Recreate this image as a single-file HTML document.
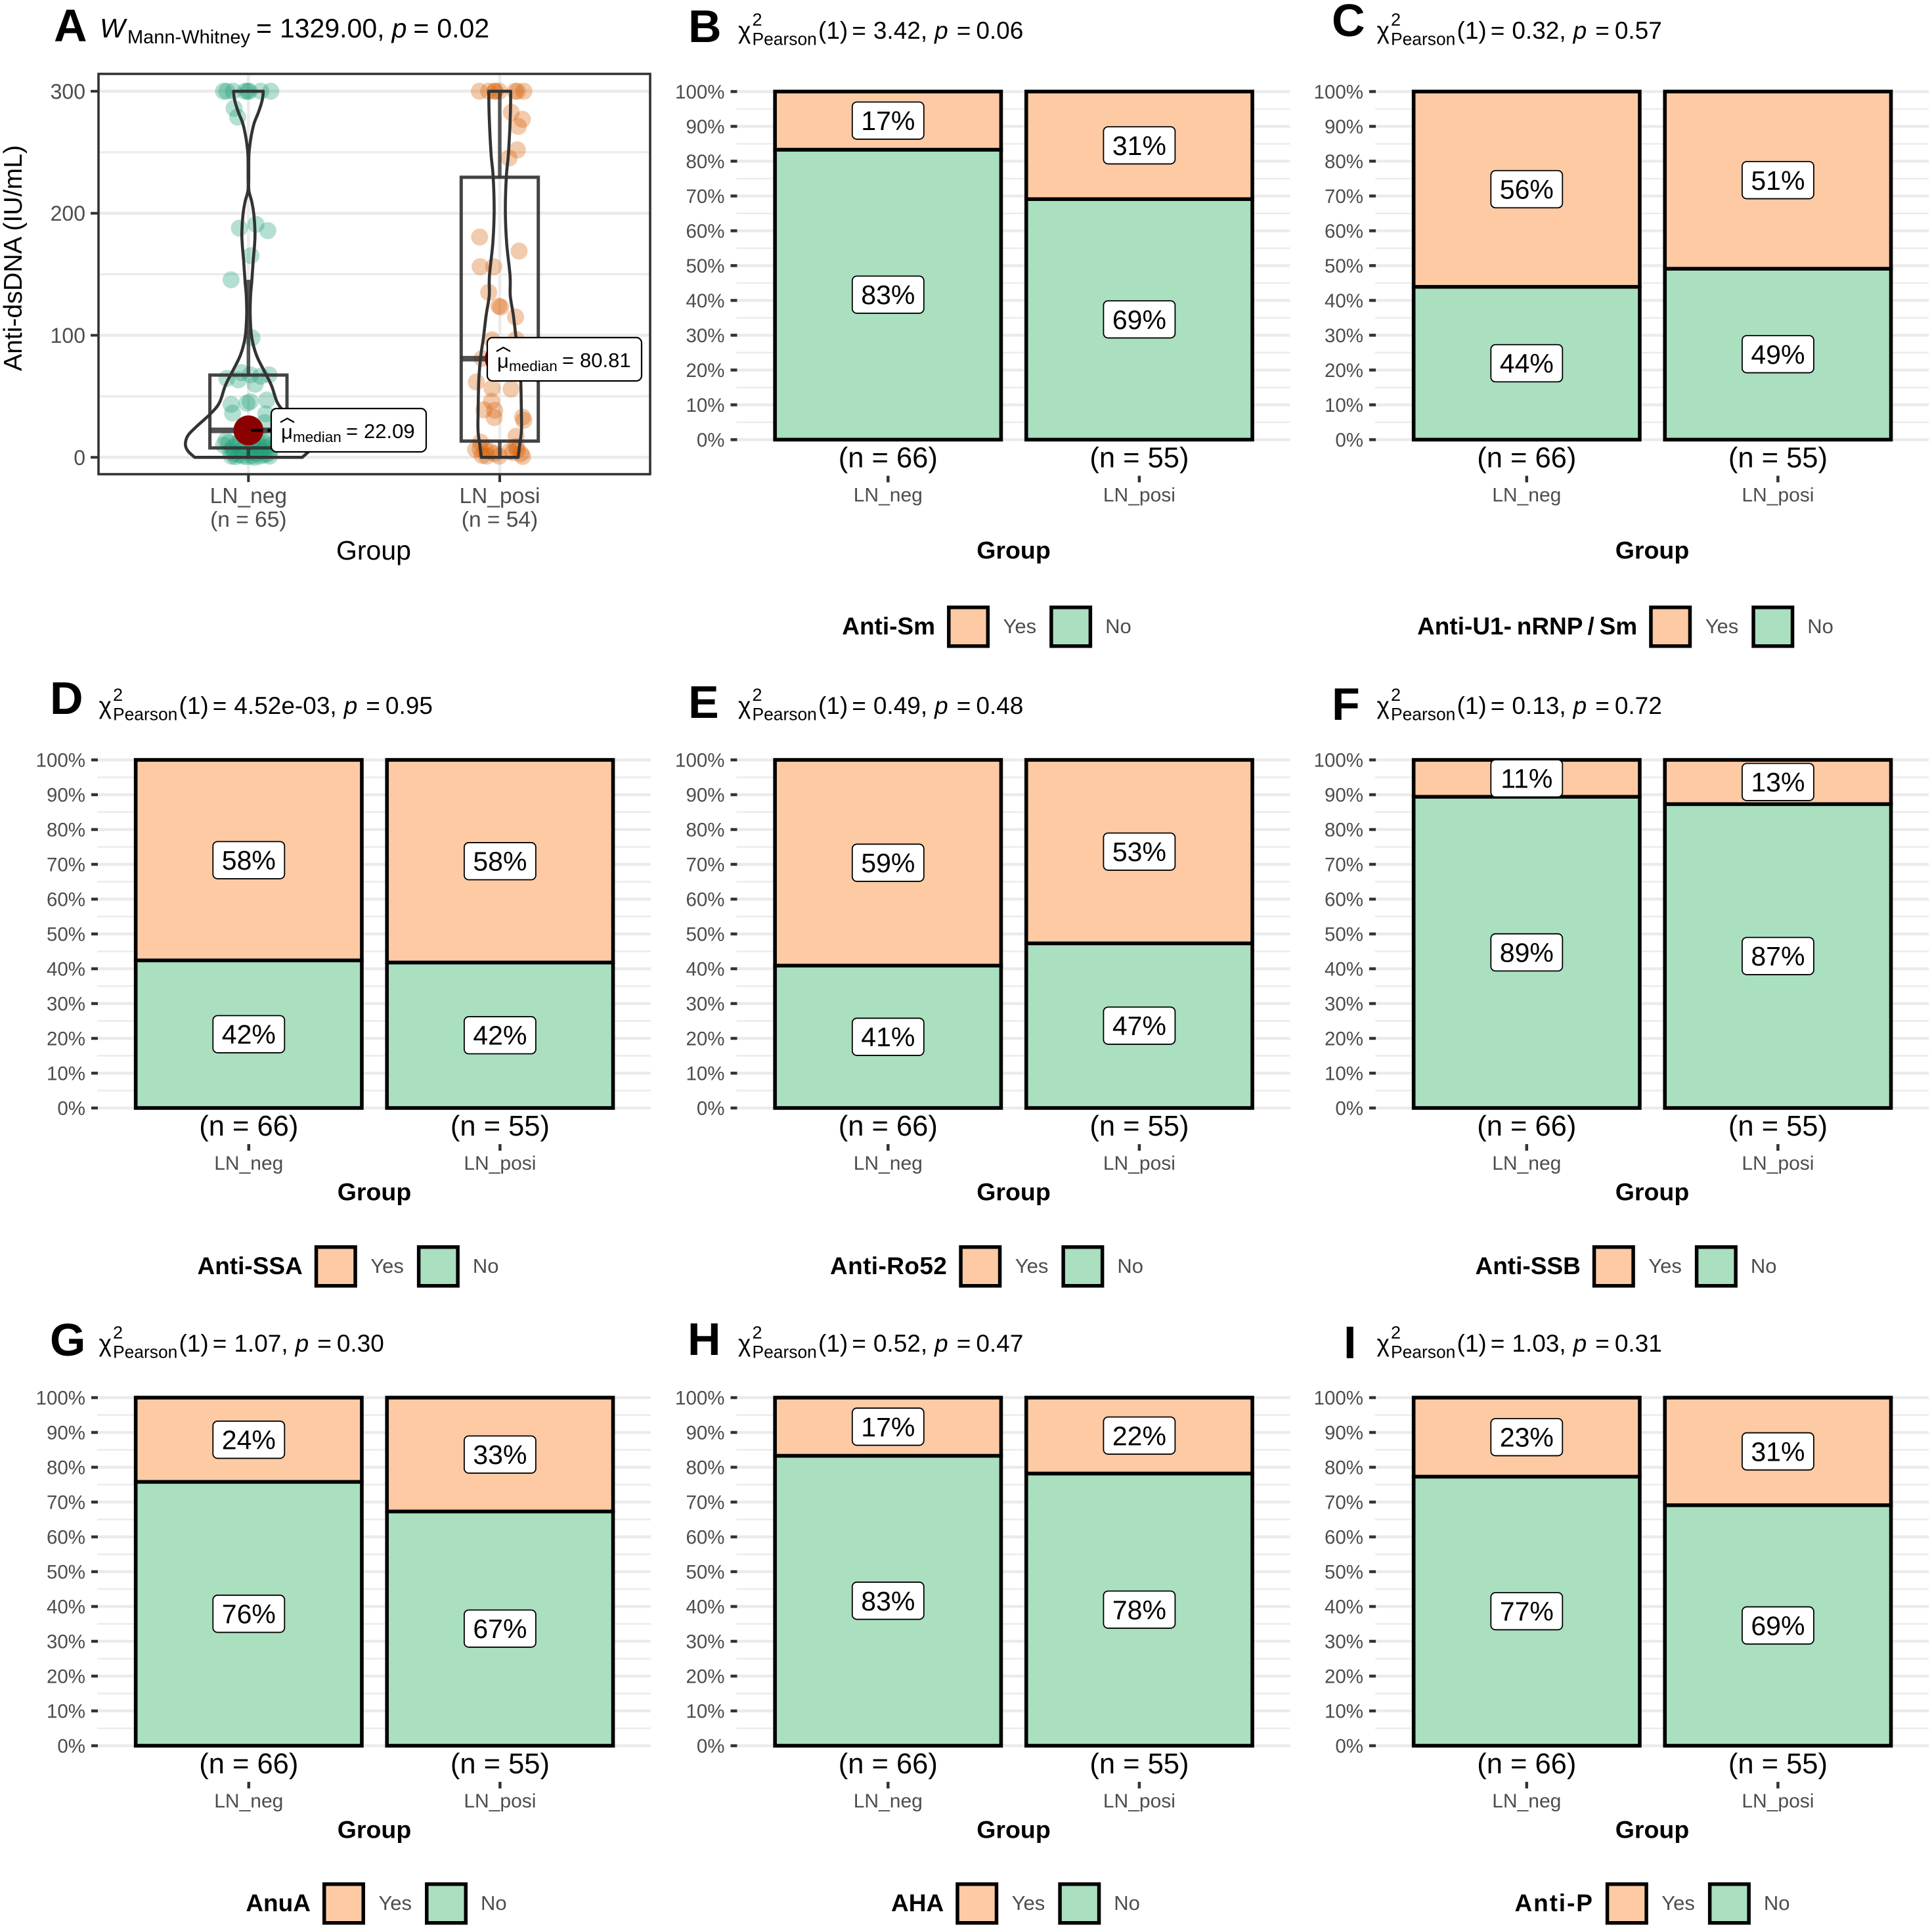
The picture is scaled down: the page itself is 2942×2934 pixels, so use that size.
<!DOCTYPE html>
<html lang="en">
<head>
<meta charset="utf-8">
<title>Anti-dsDNA and autoantibodies by LN group</title>
<style>
html,body{margin:0;padding:0;background:#fff}
svg{display:block}
text{font-family:"Liberation Sans",sans-serif}
</style>
</head>
<body>
<svg id="chart" xmlns="http://www.w3.org/2000/svg" width="2942" height="2934" viewBox="0 0 2942 2934"></svg>
<script>
// ---- Panel A data ----
const groupNames = ['LN_neg', 'LN_posi'];
const groupNsA = [65, 54];
const yTicksA = [0, 100, 200, 300];
const yMinorA = [50, 150, 250];
const mannWhitneyStat = '1329.00';
const mannWhitneyP = '0.02';
const medians = [22.09, 80.81];
const q1s = [7.7, 13.3];
const q3s = [67.4, 229.5];
const whiskerLow = [0, 0];
const whiskerHigh = [145.5, 300];

const negValues = [300,300,300,300,300,300,300,300,286,278.8,187.8,190.9,185.8,165.2,145.5,97.9,64.7,69.4,63.5,67.6,59.9,66.5,67.6,43.4,36.2,44.3,45.6,47,35.7,28.5,
  14,10,12,8,5,3,11,2,6,1,9,0.5,4,1,7,0,3,10,1,5,13,2,8,15,3,1,6,10,0.5,1,13,12,14];
const negJitter = [-0.099,-0.086,-0.06,-0.013,-0.003,0.003,0.049,0.089,-0.057,-0.043,-0.036,0.03,0.077,0.01,-0.069,0.014,-0.086,-0.028,-0.04,0.008,0.027,0.049,0.082,-0.069,-0.063,-0.006,0.007,0.073,0.069,0.065,
  -0.089,-0.099,-0.078,-0.063,-0.073,-0.057,-0.047,-0.037,-0.026,-0.021,-0.013,-0.005,0.005,0.013,0.021,0.026,0.031,0.039,0.047,0.052,0.057,0.063,0.068,0.073,0.078,0.084,0.089,0.091,-0.052,-0.068,-0.031,0.016,0.037];

const posiValues = [300,300,300,300,300,300,300,300,282.7,277,271.2,251.9,245.2,180.5,169,156.2,156.2,135.2,123.9,123.2,115,96.3,96.7,81,69.8,61.7,56.7,56,45.9,38.9,38.5,32.6,33,30.3,17.2,12.4,
  6.4,7,1.5,6,5,3,1,5,9,6,0.7,3,4,1];
const posiJitter = [-0.081,-0.044,-0.019,-0.019,-0.002,0.061,0.07,0.096,0.046,0.09,0.074,0.07,0.037,-0.08,0.077,-0.078,-0.024,-0.044,-0.004,0.004,0.063,-0.031,0.065,-0.07,0.013,-0.093,-0.031,0.045,-0.033,-0.063,-0.02,-0.022,0.091,0.096,0.065,-0.076,
  -0.096,-0.078,-0.07,-0.057,-0.039,-0.021,-0.002,0.039,0.065,0.07,0.091,0.084,0.052,-0.052];

const negViolinY = [300,292.8,283.4,274.3,265.4,256.4,247,229,218.6,209.7,199,184.6,173.8,161.2,143.4,132.6,116.4,98.5,84,71.8,59,44.7,35.8,24.9,17.8,10.6,5.2,0];
const negDensity = [0.236,0.219,0.164,0.094,0.052,0.024,0.007,0.005,0.007,0.052,0.086,0.104,0.097,0.076,0.052,0.034,0.028,0.052,0.125,0.24,0.365,0.46,0.6,0.83,0.96,1,0.96,0.854];
const posiViolinY = [300,283.4,265.4,247,229.5,202.6,175.7,148.8,132.5,116.4,98.6,82.5,62.5,35.7,21.3,8.8,0];
const posiDensity = [0.174,0.17,0.156,0.135,0.104,0.089,0.109,0.164,0.167,0.216,0.257,0.302,0.333,0.344,0.344,0.313,0.292];

// ---- Panels B-I data ----
const panelLetters = ['B','C','D','E','F','G','H','I'];
const antibodyNames = ['Anti-Sm','Anti-U1- nRNP / Sm','Anti-SSA','Anti-Ro52','Anti-SSB','AnuA','AHA','Anti-P'];
const chiStats = ['3.42','0.32','4.52e-03','0.49','0.13','1.07','0.52','1.03'];
const chiPValues = ['0.06','0.57','0.95','0.48','0.72','0.30','0.47','0.31'];
const noPctNeg = [83.3,43.9,42.4,40.9,89.4,75.8,83.3,77.3];
const noPctPosi = [69.1,49.1,41.8,47.3,87.3,67.3,78.2,69.1];
const barGroupNs = [66, 55];
const pctTicks = [0,10,20,30,40,50,60,70,80,90,100];

// ---- Layout ----
const svg = document.getElementById('chart');
const NS = 'http://www.w3.org/2000/svg';
const ORANGE = '#fecaa3', GREEN = '#aadfc0', GRID = '#ebebeb', AXIS = '#333333', TICKTXT = '#4d4d4d';

function add(tag, name, attrs, parent, txt) {
  const el = document.createElementNS(NS, tag);
  
  
  for (const k in attrs) el.setAttribute(k, attrs[k]);
  if (txt !== undefined) el.textContent = txt;
  (parent || svg).appendChild(el);
  return el;
}
function span(parent, txt, attrs) {
  const el = document.createElementNS(NS, 'tspan');
  for (const k in (attrs || {})) el.setAttribute(k, attrs[k]);
  el.textContent = txt;
  parent.appendChild(el);
  return el;
}

// Panel letters
const letterA = add('text', 'panel-letter-a', {x: 82, y: 63, 'font-size': 70, 'font-weight': 700, fill: '#000'}, svg, 'A');

// ---- Panel A ----
(function panelA() {
  const g = add('g', 'panel-a-violin-box-plot', {});
  const left = 150, right = 990, top = 112.5, bottom = 722;
  const y = v => 696.3 - v * 1.858;
  const x = i => 378.3 + i * 382.7;
  const halfW = d => d * 96;

  yMinorA.forEach(v => {
    add('line', 'minor-gridline-' + v, {x1: left, x2: right, y1: y(v), y2: y(v), stroke: GRID, 'stroke-width': 3.2}, g);
  });
  yTicksA.forEach(v => {
    add('line', 'major-gridline-' + v, {x1: left, x2: right, y1: y(v), y2: y(v), stroke: GRID, 'stroke-width': 4.6}, g);
  });
  groupNames.forEach((n, i) => {
    add('line', 'vertical-gridline-' + n, {x1: x(i), x2: x(i), y1: top, y2: bottom, stroke: GRID, 'stroke-width': 4.6}, g);
  });

  // points
  negValues.forEach((v, i) => {
    add('circle', 'point-lnneg', {cx: x(negJitter[i]), cy: y(v), r: 13, fill: '#1b9e77', 'fill-opacity': 0.33}, g);
  });
  posiValues.forEach((v, i) => {
    add('circle', 'point-lnposi', {cx: x(1 + posiJitter[i]), cy: y(v), r: 13, fill: '#d95f02', 'fill-opacity': 0.33}, g);
  });

  // box plots
  groupNames.forEach((n, i) => {
    const cx = x(i), hw = 58.7;
    add('line', 'whisker-upper-' + n, {x1: cx, x2: cx, y1: y(q3s[i]), y2: y(whiskerHigh[i]), stroke: '#333', 'stroke-opacity': 0.82, 'stroke-width': 5.5}, g);
    add('line', 'whisker-lower-' + n, {x1: cx, x2: cx, y1: y(q1s[i]), y2: y(whiskerLow[i]), stroke: '#333', 'stroke-opacity': 0.82, 'stroke-width': 5.5}, g);
    add('rect', 'box-' + n, {x: cx - hw, y: y(q3s[i]), width: hw * 2, height: y(q1s[i]) - y(q3s[i]), fill: 'none', stroke: '#333', 'stroke-opacity': 0.92, 'stroke-width': 5}, g);
    add('line', 'median-line-' + n, {x1: cx - hw, x2: cx + hw, y1: y(medians[i]), y2: y(medians[i]), stroke: '#333', 'stroke-opacity': 0.85, 'stroke-width': 8.5}, g);
  });

  // violins
  function smooth(pts) {
    let d = '';
    for (let i = 0; i < pts.length - 1; i++) {
      const p0 = pts[Math.max(0, i - 1)], p1 = pts[i], p2 = pts[i + 1], p3 = pts[Math.min(pts.length - 1, i + 2)];
      d += ' C' + (p1[0] + (p2[0] - p0[0]) / 6).toFixed(1) + ' ' + (p1[1] + (p2[1] - p0[1]) / 6).toFixed(1) + ' ' +
           (p2[0] - (p3[0] - p1[0]) / 6).toFixed(1) + ' ' + (p2[1] - (p3[1] - p1[1]) / 6).toFixed(1) + ' ' +
           p2[0].toFixed(1) + ' ' + p2[1].toFixed(1);
    }
    return d;
  }
  function violin(i, ys, dens, name) {
    const rightSide = ys.map((v, k) => [x(i) + halfW(dens[k]), y(v)]);
    const leftSide = ys.map((v, k) => [x(i) - halfW(dens[k]), y(v)]).reverse();
    const d = 'M' + rightSide[0][0].toFixed(1) + ' ' + rightSide[0][1].toFixed(1) + smooth(rightSide) +
      ' L' + leftSide[0][0].toFixed(1) + ' ' + leftSide[0][1].toFixed(1) + smooth(leftSide) + ' Z';
    add('path', name, {d: d, fill: 'none', stroke: '#333', 'stroke-width': 4.6, 'stroke-linejoin': 'round'}, g);
  }
  violin(0, negViolinY, negDensity, 'violin-lnneg');
  violin(1, posiViolinY, posiDensity, 'violin-lnposi');

  // median dots and leaders
  const labelRectX = [413, 742];
  const labelRectY = [622, 514];
  const labelRectW = [236, 235];
  medians.forEach((m, i) => {
    add('circle', 'median-dot-' + groupNames[i], {cx: x(i), cy: y(m), r: 22.8, fill: '#8b0000'}, g);
    add('line', 'median-leader-' + groupNames[i], {x1: x(i) + 4, x2: labelRectX[i], y1: y(m), y2: y(m), stroke: '#000', 'stroke-width': 4.6, 'stroke-dasharray': '18 7'}, g);
  });
  medians.forEach((m, i) => {
    const rx = labelRectX[i], ry = labelRectY[i];
    const lab = add('g', 'median-label-' + groupNames[i], {}, g);
    add('rect', 'median-label-box', {x: rx, y: ry, width: labelRectW[i], height: 66, rx: 8, fill: '#fff', stroke: '#000', 'stroke-width': 2.2}, lab);
    add('path', 'median-hat', {d: 'M' + (rx + 14) + ' ' + (ry + 21) + ' l10.5 -6 l10.5 6', fill: 'none', stroke: '#000', 'stroke-width': 2.2}, lab);
    add('text', 'median-mu', {x: rx + 15, y: ry + 46, 'font-size': 31, fill: '#000'}, lab, 'μ');
    add('text', 'median-subscript', {x: rx + 33, y: ry + 51, 'font-size': 22.5, fill: '#000'}, lab, 'median');
    add('text', 'median-equals', {x: rx + 114, y: ry + 45, 'font-size': 31, fill: '#000'}, lab, '=');
    add('text', 'median-value', {x: rx + 141, y: ry + 45, 'font-size': 31, fill: '#000'}, lab, m.toFixed(2));
  });

  add('rect', 'panel-a-border', {x: left, y: top, width: right - left, height: bottom - top, fill: 'none', stroke: AXIS, 'stroke-width': 3.6}, g);

  // axes
  yTicksA.forEach(v => {
    add('line', 'y-tick-' + v, {x1: 138, x2: left, y1: y(v), y2: y(v), stroke: AXIS, 'stroke-width': 4}, g);
    add('text', 'y-tick-label-' + v, {x: 130, y: y(v) + 11.5, 'text-anchor': 'end', 'font-size': 32, fill: TICKTXT}, g, String(v));
  });
  groupNames.forEach((n, i) => {
    add('line', 'x-tick-' + n, {x1: x(i), x2: x(i), y1: bottom, y2: bottom + 12, stroke: AXIS, 'stroke-width': 4}, g);
    add('text', 'x-tick-label-' + n, {x: x(i), y: 766, 'text-anchor': 'middle', 'font-size': 33.5, fill: TICKTXT}, g, n);
    add('text', 'x-tick-n-' + n, {x: x(i), y: 802, 'text-anchor': 'middle', 'font-size': 33.5, fill: TICKTXT}, g, '(n = ' + groupNsA[i] + ')');
  });
  add('text', 'x-axis-title', {x: 569, y: 852, 'text-anchor': 'middle', 'font-size': 41, fill: '#000'}, g, 'Group');
  add('text', 'y-axis-title', {transform: 'translate(33,393) rotate(-90)', 'text-anchor': 'middle', 'font-size': 39.2, fill: '#000'}, g, 'Anti-dsDNA (IU/mL)');

  // subtitle
  const t1 = add('text', 'panel-a-stat-w', {x: 152, y: 57, 'font-size': 41, 'font-style': 'italic', fill: '#000'}, g, 'W');
  const t2 = add('text', 'panel-a-stat-subscript', {x: 194, y: 66, 'font-size': 29, fill: '#000'}, g, 'Mann-Whitney');
  const t3 = add('text', 'panel-a-stat', {x: 390, y: 57, 'font-size': 41, fill: '#000'}, g);
  span(t3, '=');
  span(t3, mannWhitneyStat + ',', {dx: 12});
  span(t3, 'p', {dx: 11, 'font-style': 'italic'});
  span(t3, '=', {dx: 10});
  span(t3, mannWhitneyP, {dx: 12});
})();

// ---- Panels B-I ----
const colOffset = [973.5, 1946, 0, 973.5, 1946, 0, 973.5, 1946];
const plotTop = [139.4, 139.4, 1157, 1157, 1157, 2128, 2128, 2128];
const groupBase = [181, 181, 140.5, 140.5, 140.5, 140.5, 140.5, 140.5];
const keyTop = [922, 922, 1896, 1896, 1896, 2866, 2866, 2866];
const titleBase = [59, 59, 1087, 1087, 1087, 2058, 2058, 2058];
const letterBase = [64, 55, 1087, 1093, 1096, 2064, 2063, 2068];
const letterX = [1048, 2028, 76, 1048, 2028, 76, 1047, 2046];
const legendShift = [0, 0, 1, 0, 1, 44, 44, 41];
const legendTitleSpacing = [0, 0, 0, 0.4, 0, 0, 0, 1.9];

panelLetters.forEach((L, p) => {
  const ox = colOffset[p], top = plotTop[p], bottom = top + 530;
  const g = add('g', 'panel-' + L.toLowerCase() + '-stacked-bars', {});
  const y = pct => bottom - pct / 100 * (bottom - top);
  const xCenter = i => ox + 378.8 + i * 382.6;
  const barW = 344.3;

  add('text', 'panel-letter-' + L.toLowerCase(), {x: letterX[p], y: letterBase[p], 'font-size': 70, 'font-weight': 700, fill: '#000'}, g, L);

  // stat title
  const tb = titleBase[p], tx = ox + 150.5;
  add('text', 'chi-symbol', {x: tx, y: tb, 'font-size': 37, fill: '#000'}, g, 'χ');
  add('text', 'chi-superscript', {x: tx + 21.5, y: tb - 20, 'font-size': 27, fill: '#000'}, g, '2');
  add('text', 'chi-subscript', {x: tx + 21.5, y: tb + 9.5, 'font-size': 26.4, fill: '#000'}, g, 'Pearson');
  const st = add('text', 'chi-statistic', {x: tx + 122, y: tb, 'font-size': 37, fill: '#000'}, g);
  span(st, '(1)');
  span(st, '=', {dx: 6});
  span(st, chiStats[p] + ',', {dx: 11});
  span(st, 'p', {dx: 11, 'font-style': 'italic'});
  span(st, '=', {dx: 13});
  span(st, chiPValues[p], {dx: 8});

  // grid
  pctTicks.forEach((t, k) => {
    if (k < pctTicks.length - 1) {
      const mid = (t + pctTicks[k + 1]) / 2;
      add('line', 'minor-gridline', {x1: ox + 148, x2: ox + 991, y1: y(mid), y2: y(mid), stroke: GRID, 'stroke-width': 2.4}, g);
    }
    add('line', 'major-gridline-' + t, {x1: ox + 148, x2: ox + 991, y1: y(t), y2: y(t), stroke: GRID, 'stroke-width': 4.4}, g);
    add('line', 'y-tick-' + t, {x1: ox + 139, x2: ox + 149, y1: y(t), y2: y(t), stroke: AXIS, 'stroke-width': 4.5}, g);
    add('text', 'y-tick-label-' + t, {x: ox + 130, y: y(t) + 10.5, 'text-anchor': 'end', 'font-size': 29.5, fill: TICKTXT}, g, t + '%');
  });

  // bars
  const noVals = [noPctNeg[p], noPctPosi[p]];
  noVals.forEach((no, i) => {
    const cx = xCenter(i);
    add('rect', 'bar-no-' + groupNames[i], {x: cx - barW / 2, y: y(no), width: barW, height: y(0) - y(no), fill: GREEN, stroke: '#000', 'stroke-width': 5.6}, g);
    add('rect', 'bar-yes-' + groupNames[i], {x: cx - barW / 2, y: y(100), width: barW, height: y(no) - y(100), fill: ORANGE, stroke: '#000', 'stroke-width': 5.6}, g);
    [[no / 2, no], [no + (100 - no) / 2, 100 - no]].forEach(pair => {
      const ly = y(pair[0]);
      const lg = add('g', 'percent-label', {}, g);
      add('rect', 'percent-label-box', {x: cx - 54.5, y: ly - 28.3, width: 109, height: 56.6, rx: 7, fill: '#fff', stroke: '#000', 'stroke-width': 1.8}, lg);
      add('text', 'percent-label-text', {x: cx, y: ly + 14.5, 'text-anchor': 'middle', 'font-size': 41, fill: '#000'}, lg, Math.round(pair[1]) + '%');
    });
    add('text', 'group-n-label', {x: cx, y: bottom + 42, 'text-anchor': 'middle', 'font-size': 43.5, fill: '#000'}, g, '(n = ' + barGroupNs[i] + ')');
    add('line', 'x-tick', {x1: cx, x2: cx, y1: bottom + 55, y2: bottom + 65, stroke: AXIS, 'stroke-width': 4.5}, g);
    add('text', 'x-tick-label', {x: cx, y: bottom + 94, 'text-anchor': 'middle', 'font-size': 30, fill: TICKTXT}, g, groupNames[i]);
  });

  add('text', 'x-axis-title', {x: ox + 570, y: bottom + groupBase[p], 'text-anchor': 'middle', 'font-size': 37.5, 'font-weight': 700, fill: '#000'}, g, 'Group');

  // legend (centred by measurement)
  const lg = add('g', 'legend', {}, g);
  const legY = keyTop[p] + 44;
  const title = add('text', 'legend-title', {x: 0, y: legY, 'font-size': 37, 'font-weight': 700, fill: '#000', 'letter-spacing': legendTitleSpacing[p]}, lg, antibodyNames[p]);
  if (antibodyNames[p].indexOf(' / ') > -1) title.setAttribute('word-spacing', '-2.5');
  const yesT = add('text', 'legend-label-yes', {x: 0, y: keyTop[p] + 42, 'font-size': 31, fill: TICKTXT}, lg, 'Yes');
  const noT = add('text', 'legend-label-no', {x: 0, y: keyTop[p] + 42, 'font-size': 31, fill: TICKTXT}, lg, 'No');
  const tw = title.getComputedTextLength(), yw = yesT.getComputedTextLength(), nw = noT.getComputedTextLength();
  const total = tw + 18 + 65 + 20.5 + yw + 20 + 65 + 20 + nw;
  let cur = ox + 570 - 41 + legendShift[p] - total / 2;
  title.setAttribute('x', cur);
  cur += tw + 18;
  add('rect', 'legend-key-yes', {x: cur + 2.75, y: keyTop[p] + 2.75, width: 59.5, height: 59, fill: ORANGE, stroke: '#000', 'stroke-width': 5.5}, lg);
  cur += 65 + 20.5;
  yesT.setAttribute('x', cur);
  cur += yw + 20;
  add('rect', 'legend-key-no', {x: cur + 2.75, y: keyTop[p] + 2.75, width: 59.5, height: 59, fill: GREEN, stroke: '#000', 'stroke-width': 5.5}, lg);
  cur += 65 + 20;
  noT.setAttribute('x', cur);
});
</script>
</body>
</html>
